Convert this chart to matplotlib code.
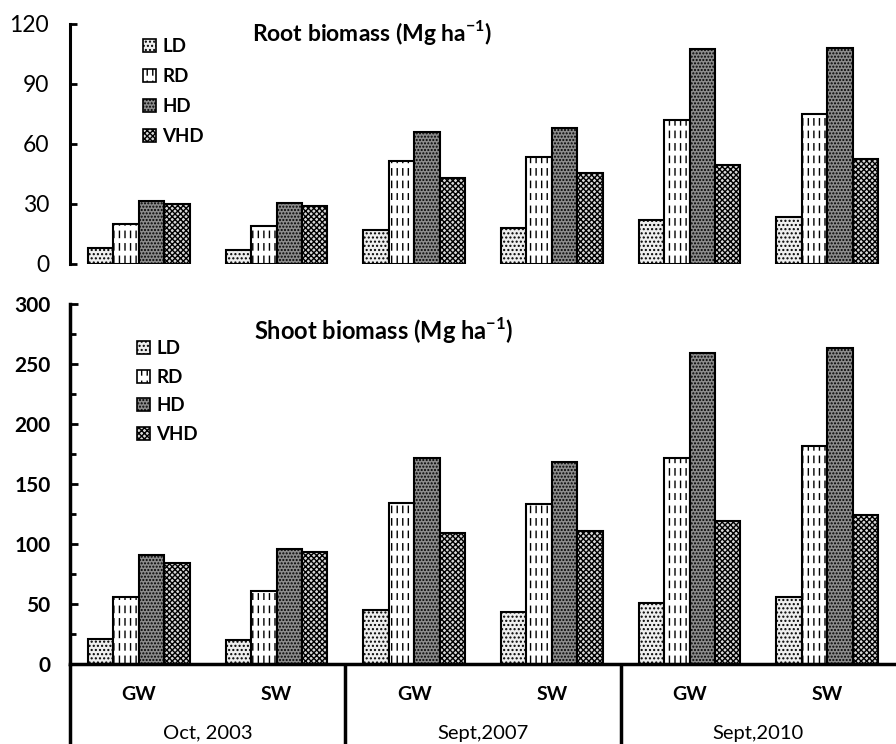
import warnings
warnings.filterwarnings("ignore")
import numpy as np
import matplotlib
matplotlib.use("Agg")
import matplotlib.pyplot as plt
import matplotlib.hatch as mhatch
from matplotlib.path import Path
from matplotlib.patches import Patch
import matplotlib.transforms as mtrans

# ---------------- data ----------------
years = ["Oct, 2003", "Sept,2007", "Sept,2010"]
waters = ["GW", "SW"]
groups = ["GW", "SW", "GW", "SW", "GW", "SW"]
densities = ["LD", "RD", "HD", "VHD"]

root_LD = [8, 7, 17, 18, 22, 23.5]
root_RD = [20, 19, 51.5, 53.5, 72, 75]
root_HD = [31.5, 30.5, 66, 68, 107.5, 108]
root_VHD = [30, 29, 43, 45.5, 49.5, 52.5]

shoot_LD = [21, 20, 45, 43, 51, 56]
shoot_RD = [56, 61, 134, 133, 172, 182]
shoot_HD = [91, 96, 172, 168, 259, 263]
shoot_VHD = [84, 93, 109, 111, 119, 124]

root_ticks = [0, 30, 60, 90, 120]
shoot_ticks = [0, 50, 100, 150, 200, 250, 300]


# ---------------- custom dashed vertical hatch ----------------
class DashedVertical(mhatch.HatchPatternBase):
    def __init__(self, hatch, density):
        self.num_lines = int(hatch.count('!') * density)
        self.ndash = 8
        self.num_vertices = self.num_lines * self.ndash * 2

    def set_vertices_and_codes(self, vertices, codes):
        xs = (np.arange(self.num_lines) + 0.5) / max(self.num_lines, 1)
        k = 0
        for x in xs:
            for j in range(self.ndash):
                y0 = j / self.ndash
                y1 = y0 + 0.5 / self.ndash
                vertices[k] = (x, y0)
                vertices[k + 1] = (x, y1)
                codes[k] = Path.MOVETO
                codes[k + 1] = Path.LINETO
                k += 2


mhatch._hatch_types.append(DashedVertical)

plt.rcParams['font.family'] = ['Lato', 'DejaVu Sans']
plt.rcParams['mathtext.fontset'] = 'custom'
plt.rcParams['mathtext.rm'] = 'Lato'
plt.rcParams['mathtext.bf'] = 'Lato:bold'
plt.rcParams['hatch.linewidth'] = 1.0

styles = {
    "LD": dict(facecolor="#eeeeee", hatch="...."),
    "RD": dict(facecolor="white", hatch="!!!"),
    "HD": dict(facecolor="#8c8c8c", hatch="....."),
    "VHD": dict(facecolor="#d8d8d8", hatch="xxxxxx"),
}

fig = plt.figure(figsize=(8.96, 7.44), dpi=100)
W, H = 896, 744
ax_l = 70 / W
ax_w = (896 - 70) / W
ax1 = fig.add_axes([ax_l, 1 - 264 / H, ax_w, (264 - 23.5) / H])
ax2 = fig.add_axes([ax_l, 1 - 664 / H, ax_w, (664 - 304) / H])

x = np.arange(len(groups))
bw = 0.185
offs = (np.arange(4) - 1.5) * bw

root = [root_LD, root_RD, root_HD, root_VHD]
shoot = [shoot_LD, shoot_RD, shoot_HD, shoot_VHD]

for ax, data in ((ax1, root), (ax2, shoot)):
    for i, d in enumerate(densities):
        ax.bar(x + offs[i], data[i], width=bw, edgecolor="black",
               linewidth=1.5, label=d, **styles[d])
    ax.set_xlim(-0.5, len(groups) - 0.5)
    for s in ("top", "right"):
        ax.spines[s].set_visible(False)
    ax.set_xticks([])

# top axis
ax1.set_ylim(0, 120)
ax1.set_yticks(root_ticks)
ax1.spines["bottom"].set_visible(False)
ax1.spines["left"].set_linewidth(2.2)
ax1.tick_params(axis="y", direction="in", length=5, width=2, labelsize=16.5, pad=15)
ax1.text(0.366, 0.962, r"Root biomass (Mg ha$^{\mathbf{-1}}$)", transform=ax1.transAxes,
         ha="center", va="center", fontsize=16.5, fontweight="bold")
handles = [Patch(edgecolor="black", linewidth=1.2, label=d, **styles[d]) for d in densities]
ax1.legend(handles=handles, loc="upper left", bbox_to_anchor=(0.088, 0.94),
           frameon=False, prop=dict(size=13.5, weight="bold"), handlelength=0.7,
           handleheight=0.7, handletextpad=0.35, labelspacing=0.7, borderpad=0,
           borderaxespad=0)

# bottom axis
ax2.set_ylim(0, 300)
ax2.set_yticks(shoot_ticks)
ax2.set_yticks(np.arange(25, 300, 50), minor=True)
ax2.spines["left"].set_linewidth(2.5)
ax2.spines["bottom"].set_linewidth(2.5)
ax2.tick_params(axis="y", which="major", direction="in", length=6, width=2, labelsize=15, pad=14)
ax2.tick_params(axis="y", which="minor", direction="in", length=4, width=2)
for lab in ax2.get_yticklabels():
    lab.set_fontweight("bold")
ax2.text(0.38, 0.925, r"Shoot biomass (Mg ha$^{\mathbf{-1}}$)", transform=ax2.transAxes,
         ha="center", va="center", fontsize=17, fontweight="bold")
ax2.legend(handles=handles, loc="upper left", bbox_to_anchor=(0.081, 0.9),
           frameon=False, prop=dict(size=13.5, weight="bold"), handlelength=0.7,
           handleheight=0.7, handletextpad=0.35, labelspacing=0.62, borderpad=0,
           borderaxespad=0)

# category table below bottom axis
trans = mtrans.blended_transform_factory(ax2.transData, ax2.transAxes)
pix = (664 - 304) / 1.0  # axes height in px
y_bot = -(744 - 664) / pix
n_per = len(waters)
for k in range(len(years)):
    xb = -0.5 + k * n_per
    ax2.plot([xb, xb], [0, y_bot], transform=trans, color="black", lw=2.5,
             clip_on=False, solid_capstyle="butt")
for i, g in enumerate(groups):
    ax2.text(x[i], -(694 - 664) / pix, g, transform=trans, ha="center", va="center",
             fontsize=14, fontweight="bold")
for k, yname in enumerate(years):
    xc = k * n_per + (n_per - 1) / 2
    ax2.text(xc, -(733 - 664) / pix, yname, transform=trans, ha="center", va="center",
             fontsize=14.5)

fig.savefig("out.png", dpi=100)
